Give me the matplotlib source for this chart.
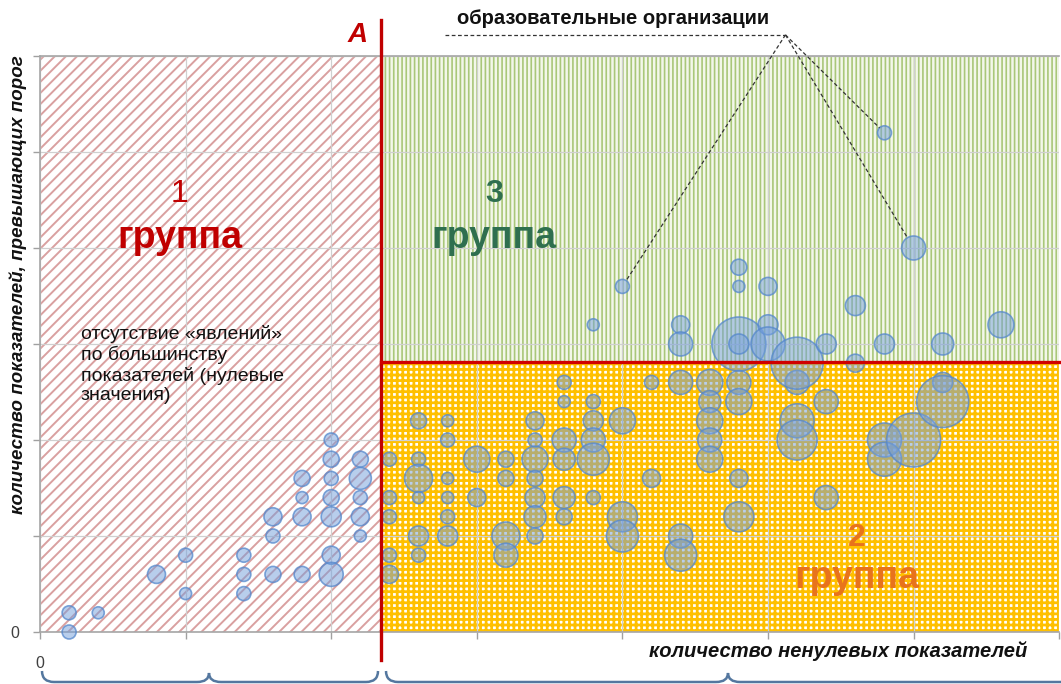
import matplotlib
matplotlib.use("Agg")
import matplotlib.pyplot as plt
from matplotlib.patches import Rectangle, PathPatch
from matplotlib.path import Path

plt.rcParams['font.family'] = ['Liberation Sans', 'DejaVu Sans']

# bubbles: x = количество ненулевых показателей, y = показатели выше порога, r = размер (px)
# группа 1
g1_x = [1, 1, 2, 4, 5, 5, 7, 7, 7, 8, 8, 8, 9, 9, 9, 9, 10, 10, 10, 10, 10, 10, 10, 11, 11, 11, 11, 11]
g1_y = [0, 1, 1, 3, 4, 2, 4, 3, 2, 6, 5, 3, 8, 7, 6, 3, 10, 9, 8, 7, 6, 4, 3, 9, 8, 7, 6, 5]
g1_r = [7, 7, 6, 9, 7, 6, 7, 7, 7, 9, 7, 8, 8, 6, 9, 8, 7, 8, 7, 8, 10, 9, 12, 8, 11, 7, 9, 6]
# группа 2
g2_x = [12, 12, 12, 12, 12, 13, 13, 13, 13, 13, 13, 14, 14, 14, 14, 14, 14, 15, 15,
        16, 16, 16, 16, 17, 17, 17, 17, 17, 17, 17, 18, 18, 18, 18, 18, 18,
        19, 19, 19, 19, 19, 20, 20, 20, 21, 21, 22, 22, 22, 23, 23, 23, 23, 23,
        24, 24, 24, 24, 26, 26, 26, 27, 27, 29, 29, 30, 31, 31]
g2_y = [9, 7, 6, 4, 3, 11, 9, 8, 7, 5, 4, 11, 10, 8, 7, 6, 5, 9, 7,
        9, 8, 5, 4, 11, 10, 9, 8, 7, 6, 5, 13, 12, 10, 9, 7, 6,
        12, 11, 10, 9, 7, 11, 6, 5, 13, 8, 13, 5, 4, 13, 12, 11, 10, 9,
        13, 12, 8, 6, 13, 11, 10, 12, 7, 10, 9, 10, 13, 12]
g2_r = [7, 7, 7, 7, 9, 8, 7, 14, 6, 10, 7, 6, 7, 6, 6, 7, 10, 13, 9,
        8, 8, 14, 12, 9, 7, 13, 8, 10, 11, 8, 7, 6, 12, 11, 11, 8,
        7, 10, 12, 16, 7, 13, 15, 16, 7, 9, 12, 12, 16, 13, 11, 13, 12, 13,
        12, 13, 9, 15, 12, 17, 20, 12, 12, 17, 17, 27, 10, 26]
# группа 3
g3_x = [19, 20, 22, 22, 24, 24, 24, 24, 25, 25, 25, 26, 27, 28, 28, 29, 29, 30, 31, 33]
g3_y = [16, 18, 16, 15, 19, 18, 15, 15, 18, 16, 15, 14, 15, 17, 14, 15, 26, 20, 15, 16]
g3_r = [6, 7, 9, 12, 8, 6, 27, 10, 9, 10, 17, 26, 10, 10, 9, 10, 7, 12, 11, 13]

# образовательные организации, отмеченные выносками
marked_x = [20, 29, 30]
marked_y = [18, 26, 20]
marked_r = [7, 7, 12]

A_value = 11.7
threshold = 14.06
x_max, y_max = 35, 30

W, H = 1061, 684
fig = plt.figure(figsize=(W / 100, H / 100), dpi=100)
ax = fig.add_axes([40 / W, 52 / H, 1019.2 / W, 576 / H])
ax.set_xlim(0, x_max)
ax.set_ylim(0, y_max)


def px(x, y):
    return x / W, 1 - y / H


def hatch_rect(x0, y0, w, h, fc, ec, hatch, lw):
    p = Rectangle((x0, y0), w, h, facecolor=fc, edgecolor=ec, hatch=hatch, linewidth=0, zorder=0.5)
    if hasattr(p, "set_hatch_linewidth"):
        p.set_hatch_linewidth(lw)
    else:
        plt.rcParams['hatch.linewidth'] = lw
    ax.add_patch(p)


hatch_rect(0, 0, A_value, y_max, "white", "#d9a0a0", "///", 1.4)
hatch_rect(A_value, threshold, x_max - A_value, y_max - threshold, "#f3f7ea", "#a9c779", "||||", 1.2)
hatch_rect(A_value, 0, x_max - A_value, threshold, "white", "#ffc000", "+++", 2.0)

ax.set_xticks(range(0, x_max + 1, 5))
ax.set_yticks(range(0, y_max + 1, 5))
ax.set_xticklabels(["0"] + [""] * 7)
ax.set_yticklabels(["0"] + [""] * 6)
ax.tick_params(axis="both", color="#a0a0a0", length=5, width=1, labelsize=11.5, labelcolor="#404040", pad=10)
ax.tick_params(axis="x", pad=12)
ax.grid(True, color="#d0d0d0", linewidth=0.9)
ax.spines["right"].set_visible(False)
for s in ["left", "bottom", "top"]:
    ax.spines[s].set_color("#a6a6a6")
    ax.spines[s].set_linewidth(1.2)

# bubbles
for xs, ys, rs in [(g1_x, g1_y, g1_r), (g2_x, g2_y, g2_r), (g3_x, g3_y, g3_r)]:
    ax.scatter(xs, ys, s=[(1.44 * r) ** 2 for r in rs], facecolor=(0.45, 0.62, 0.86, 0.5),
               edgecolor=(0.33, 0.53, 0.80, 0.75), linewidth=1.2, zorder=3, clip_on=False)

# red borders
ax.plot([A_value, A_value], [-1.45, 31.9], color="#c00000", linewidth=2.4, zorder=4, clip_on=False)
ax.plot([A_value, x_max + 0.1], [threshold, threshold], color="#d00000", linewidth=2.4, zorder=4, clip_on=False)

# group labels
ax.text(4.8, 22.8, "1", color="#c00000", fontsize=23, ha="center", va="center", zorder=5)
ax.text(4.8, 20.5, "группа", color="#c00000", fontsize=27, fontweight="bold", ha="center", va="center", zorder=5)
ax.text(15.6, 22.8, "3", color="#2f6f4f", fontsize=23, fontweight="bold", ha="center", va="center", zorder=5)
ax.text(15.6, 20.5, "группа", color="#2f6f4f", fontsize=27, fontweight="bold", ha="center", va="center", zorder=5)
ax.text(28.05, 4.9, "2", color="#e8731c", fontsize=23, fontweight="bold", ha="center", va="center", zorder=5)
ax.text(28.05, 2.8, "группа", color="#e8731c", fontsize=27, fontweight="bold", ha="center", va="center", zorder=5)

ax.text(1.4, 16.0, "отсутствие «явлений»\nпо большинству\nпоказателей (нулевые\nзначения)",
        fontsize=14, color="#111111", ha="left", va="top", linespacing=1.2, zorder=5)

fig.text(*px(368, 35), "A", color="#c00000", fontsize=20, fontweight="bold", style="italic", ha="right", va="center")

fig.text(*px(18, 285), "количество показателей, превышающих порог", rotation=90, fontsize=13.5,
         fontweight="bold", style="italic", ha="center", va="center", color="#111111")
fig.text(*px(1027, 651), "количество ненулевых показателей", fontsize=14.5,
         fontweight="bold", style="italic", ha="right", va="center", color="#111111")

# leader lines
fig.text(*px(613, 18), "образовательные организации", fontsize=14.5, fontweight="bold",
         ha="center", va="center", color="#111111")
hub = (25.6, 31.1)
ax.plot([13.9, hub[0]], [hub[1], hub[1]], color="#333333", linewidth=0.9, linestyle=(0, (3, 2)),
        clip_on=False, zorder=6)
fig.canvas.draw()
hx, hy = ax.transData.transform(hub)
for mx, my, mr in zip(marked_x, marked_y, marked_r):
    bx, by = ax.transData.transform((mx, my))
    d = ((bx - hx) ** 2 + (by - hy) ** 2) ** 0.5
    ex, ey = bx - (bx - hx) * mr / d, by - (by - hy) * mr / d
    end = ax.transData.inverted().transform((ex, ey))
    ax.plot([hub[0], end[0]], [hub[1], end[1]], color="#333333", linewidth=0.9,
            linestyle=(0, (3, 2)), clip_on=False, zorder=6)


# braces below the axis
def brace(x0, x1, xm, ytop=671, ybot=682, ytip=673):
    verts = [px(x0, ytop), px(x0, ybot), px(x0 + 12, ybot), px(xm - 12, ybot),
             px(xm, ybot), px(xm, ytip), px(xm, ybot), px(xm + 12, ybot),
             px(x1 - 12, ybot), px(x1, ybot), px(x1, ytop)]
    codes = [Path.MOVETO, Path.CURVE3, Path.CURVE3, Path.LINETO, Path.CURVE3, Path.CURVE3,
             Path.CURVE3, Path.CURVE3, Path.LINETO, Path.CURVE3, Path.CURVE3]
    fig.add_artist(PathPatch(Path(verts, codes), facecolor="none", edgecolor="#54779f",
                             linewidth=1.8, transform=fig.transFigure))


brace(42, 378, 209)
brace(386, 1090, 728)

fig.savefig("out.png", dpi=100)
